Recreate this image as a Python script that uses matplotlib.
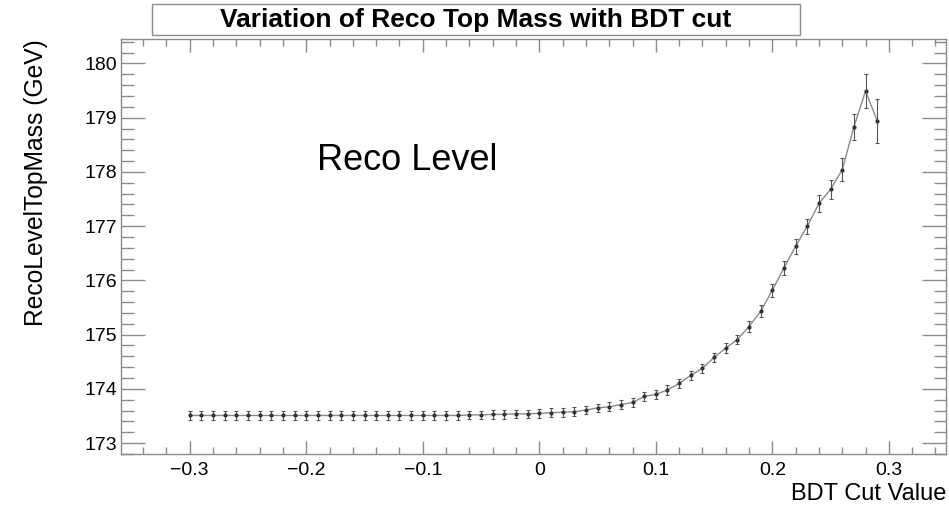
import matplotlib
matplotlib.use("Agg")
import matplotlib.pyplot as plt
from matplotlib.ticker import MultipleLocator
from matplotlib.patches import Rectangle

plt.rcParams['font.family'] = ['Liberation Sans', 'DejaVu Sans']

# BDT cut values (x) and reconstructed top mass (y) with errors
bdt_cut = [-0.30, -0.29, -0.28, -0.27, -0.26, -0.25, -0.24, -0.23, -0.22, -0.21,
           -0.20, -0.19, -0.18, -0.17, -0.16, -0.15, -0.14, -0.13, -0.12, -0.11,
           -0.10, -0.09, -0.08, -0.07, -0.06, -0.05, -0.04, -0.03, -0.02, -0.01,
           0.00, 0.01, 0.02, 0.03, 0.04, 0.05, 0.06, 0.07, 0.08, 0.09,
           0.10, 0.11, 0.12, 0.13, 0.14, 0.15, 0.16, 0.17, 0.18, 0.19,
           0.20, 0.21, 0.22, 0.23, 0.24, 0.25, 0.26, 0.27, 0.28, 0.29]

top_mass = [173.51] * 20 + [
    173.51, 173.51, 173.51, 173.51, 173.52, 173.52, 173.53, 173.53, 173.54, 173.54,
    173.55, 173.56, 173.57, 173.58, 173.61, 173.65, 173.67, 173.71, 173.75, 173.86,
    173.90, 173.98, 174.10, 174.25, 174.38, 174.58, 174.75, 174.91, 175.15, 175.43,
    175.82, 176.23, 176.63, 177.00, 177.42, 177.68, 178.04, 178.83, 179.49, 178.94]

mass_err = [0.08] * 36 + [
    0.085, 0.085, 0.085, 0.085, 0.085, 0.085, 0.085, 0.085, 0.085,
    0.09, 0.09, 0.09, 0.10, 0.11,
    0.12, 0.13, 0.14, 0.14, 0.16, 0.18, 0.21, 0.24, 0.32, 0.40]

fig = plt.figure(figsize=(9.49, 5.12), dpi=100)
ax = fig.add_axes([0.1275, 0.1133, 0.8693, 0.8105])

# connecting line, then error bars and markers
ax.plot(bdt_cut, top_mass, color='#8a8a8a', lw=1.0, zorder=2)
ax.errorbar(bdt_cut, top_mass, yerr=mass_err, fmt='none', ecolor='#555555',
            elinewidth=0.8, capsize=1.6, capthick=0.8, zorder=3)
ax.plot(bdt_cut, top_mass, ls='none', marker='o', ms=2.0, color='#333333', zorder=4)

ax.set_xlim(-0.359, 0.349)
ax.set_ylim(172.8, 180.45)

ax.xaxis.set_major_locator(MultipleLocator(0.1))
ax.xaxis.set_minor_locator(MultipleLocator(0.02))
ax.yaxis.set_major_locator(MultipleLocator(1))
ax.yaxis.set_minor_locator(MultipleLocator(0.2))
ax.set_xticks([-0.3, -0.2, -0.1, 0.0, 0.1, 0.2, 0.3])
ax.set_xticklabels(['\u22120.3', '\u22120.2', '\u22120.1', '0', '0.1', '0.2', '0.3'])

tick_col = '#8c8c8c'
ax.tick_params(axis='both', which='both', direction='in', top=True, right=True,
               color=tick_col, labelsize=14, width=1.0)
ax.tick_params(axis='x', which='major', length=9.5, pad=6)
ax.tick_params(axis='x', which='minor', length=5)
ax.tick_params(axis='y', which='major', length=17, pad=3)
ax.tick_params(axis='y', which='minor', length=9)
for sp in ax.spines.values():
    sp.set_color(tick_col)
    sp.set_linewidth(1.0)

ax.set_xlabel('BDT Cut Value', fontsize=17, loc='right', labelpad=3)
ax.set_ylabel('RecoLevelTopMass (GeV)', fontsize=17.7, loc='top', labelpad=26)

ax.text(0.237, 0.684, 'Reco Level', transform=ax.transAxes, fontsize=26,
        ha='left', va='baseline')

# ROOT style title box
fig.patches.append(Rectangle((152 / 949, 1 - 35 / 512), (800 - 152) / 949, 31 / 512,
                             transform=fig.transFigure, facecolor='white',
                             edgecolor='#8c8c8c', lw=1.0))
fig.text(476 / 949, 1 - 19.5 / 512, 'Variation of Reco Top Mass with BDT cut',
         fontsize=19, fontweight='bold', ha='center', va='center')

fig.savefig('out.png', dpi=100)
